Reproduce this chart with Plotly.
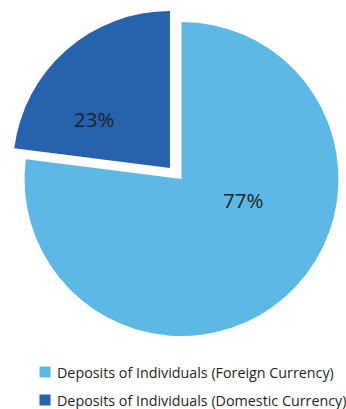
import plotly.graph_objects as go

# Share of individual deposits by currency (%)
labels = ["Deposits of Individuals (Foreign Currency)",
          "Deposits of Individuals (Domestic Currency)"]
values = [77, 23]
colors = ["#5DB8E6", "#2762AE"]

W, H = 346, 409
CLEAR = "rgba(0,0,0,0)"


def px_x(x):
    return x / W


def px_y(y):
    return 1 - y / H


def domain(cx, cy, r):
    return dict(x=[(cx - r) / W, (cx + r) / W],
                y=[(H - cy - r) / H, (H - cy + r) / H])


R = 157
fig = go.Figure()

# Main disc: foreign-currency slice in place
fig.add_trace(go.Pie(
    labels=labels, values=values, sort=False, direction="clockwise",
    marker=dict(colors=[colors[0], CLEAR], line=dict(width=0)),
    textinfo="none", hoverinfo="label+percent", showlegend=False,
    domain=domain(181.5, 179, R),
))

# Domestic-currency slice, exploded up and to the left
fig.add_trace(go.Pie(
    labels=labels, values=values, sort=False, direction="clockwise",
    marker=dict(colors=[CLEAR, colors[1]], line=dict(width=0)),
    textinfo="none", hoverinfo="label+percent", showlegend=False,
    domain=domain(170, 168, R),
))

label_font = dict(family="Open Sans, sans-serif", size=20.5, color="#231F20")
label_pos = [(243, 200), (94, 119)]
annotations = []
for v, (x, y) in zip(values, label_pos):
    annotations.append(dict(
        text=f"{v}%", x=px_x(x), y=px_y(y), xref="paper", yref="paper",
        xanchor="center", yanchor="middle", showarrow=False, font=label_font,
    ))

# Legend: colour swatch and caption per category
shapes = []
legend_font = dict(family="Open Sans, sans-serif", size=14.3, color="#231F20")
for i, (lab, col) in enumerate(zip(labels, colors)):
    cy = 372 + 28 * i
    shapes.append(dict(
        type="rect", xref="paper", yref="paper",
        x0=px_x(39.5), x1=px_x(50.5), y0=px_y(cy + 5.5), y1=px_y(cy - 5.5),
        fillcolor=col, line=dict(width=0),
    ))
    annotations.append(dict(
        text=lab, x=px_x(55), y=px_y(cy), xref="paper", yref="paper",
        xanchor="left", yanchor="middle", showarrow=False, font=legend_font,
    ))

fig.update_layout(
    width=W, height=H,
    margin=dict(l=0, r=0, t=0, b=0),
    paper_bgcolor="white", plot_bgcolor="white",
    annotations=annotations, shapes=shapes,
)

fig.write_html("out.html")
